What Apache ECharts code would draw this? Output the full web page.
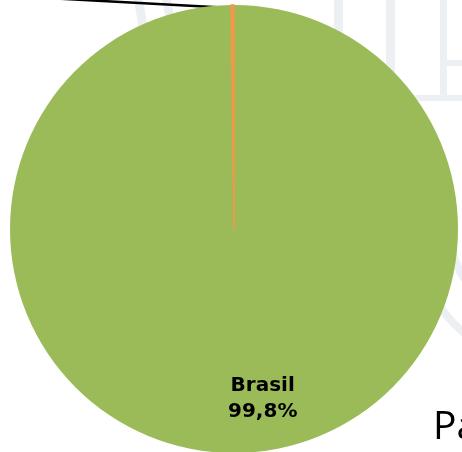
<!DOCTYPE html>
<html>
<head>
<meta charset="utf-8">
<script src="https://cdn.jsdelivr.net/npm/echarts@6/dist/echarts.min.js"></script>
<style>html,body{margin:0;padding:0;background:#fff;}#c{width:462px;height:452px;}</style>
</head>
<body>
<div id="c"></div>
<script>
var categories = ['Brasil', 'Outros'];
var values = [99.8, 0.2];
var labels = ['Brasil\n99,8%', 'Outros\n0,2%'];
var colors = ['#9BBB59', '#F79646'];

var chart = echarts.init(document.getElementById('c'), null, {renderer: 'canvas'});
var deco = '#EDF0F2';
chart.setOption({
  backgroundColor: '#ffffff',
  animation: false,
  graphic: [
    {type: 'rect', z: -10, shape: {x: 334, y: 0, width: 9, height: 110}, style: {fill: deco}},
    {type: 'rect', z: -10, shape: {x: 386, y: 0, width: 9, height: 110}, style: {fill: deco}},
    {type: 'rect', z: -10, shape: {x: 440, y: 0, width: 7, height: 100}, style: {fill: deco}},
    {type: 'rect', z: -10, shape: {x: 440, y: 60, width: 22, height: 6}, style: {fill: deco}},
    {type: 'rect', z: -10, shape: {x: 400, y: 95, width: 62, height: 6}, style: {fill: deco}},
    {type: 'polygon', z: -10, shape: {points: [[134,0],[143,0],[148,30],[139,30]]}, style: {fill: deco}},
    {type: 'polygon', z: -10, shape: {points: [[162,0],[171,0],[175,20],[166,20]]}, style: {fill: deco}},
    {type: 'arc', z: -10, shape: {cx: 540, cy: 240, r: 120, startAngle: 1.9, endAngle: 3.0}, style: {stroke: deco, lineWidth: 8, fill: null}},
    {type: 'arc', z: -10, shape: {cx: 540, cy: 230, r: 90, startAngle: 1.9, endAngle: 3.0}, style: {stroke: deco, lineWidth: 8, fill: null}},
    {type: 'text', z: 10, left: 433, top: 408, style: {text: 'Pa', font: '39px "Open Sans", "Noto Sans", sans-serif', fill: '#000000'}}
  ],
  series: [{
    type: 'pie',
    center: [234, 229],
    radius: [0, 224],
    startAngle: 90,
    clockwise: true,
    avoidLabelOverlap: false,
    silent: true,
    itemStyle: {borderWidth: 0},
    data: categories.map(function (c, i) {
      return {
        name: c,
        value: values[i],
        itemStyle: i === 0 ? {color: colors[i]} : {color: colors[i], borderColor: colors[i], borderWidth: 1.5},
        label: i === 0 ? {
          show: true,
          position: 'inside',
          formatter: labels[i],
          color: '#000',
          fontWeight: 'bold',
          fontSize: 20,
          lineHeight: 26,
          fontFamily: '"DejaVu Sans", sans-serif',
          align: 'center'
        } : {
          show: true,
          position: 'outside',
          formatter: labels[i],
          color: '#000',
          fontSize: 14
        },
        labelLine: i === 0 ? {show: false} : {show: true, lineStyle: {color: '#000', width: 2.5}}
      };
    }),
    labelLayout: function (params) {
      if (params.dataIndex === 0) {
        return {dx: 28, dy: 55};
      }
      var p = params.labelLinePoints;
      if (!p) return {};
      var s = [p[0][0] - 1, p[0][1] + 3];
      var e = [s[0] - 240, s[1] - 13];
      return {x: e[0] - 60, y: e[1] - 30, labelLinePoints: [s, e, [e[0] - 2, e[1] - 2]]};
    }
  }]
});
</script>
</body>
</html>
